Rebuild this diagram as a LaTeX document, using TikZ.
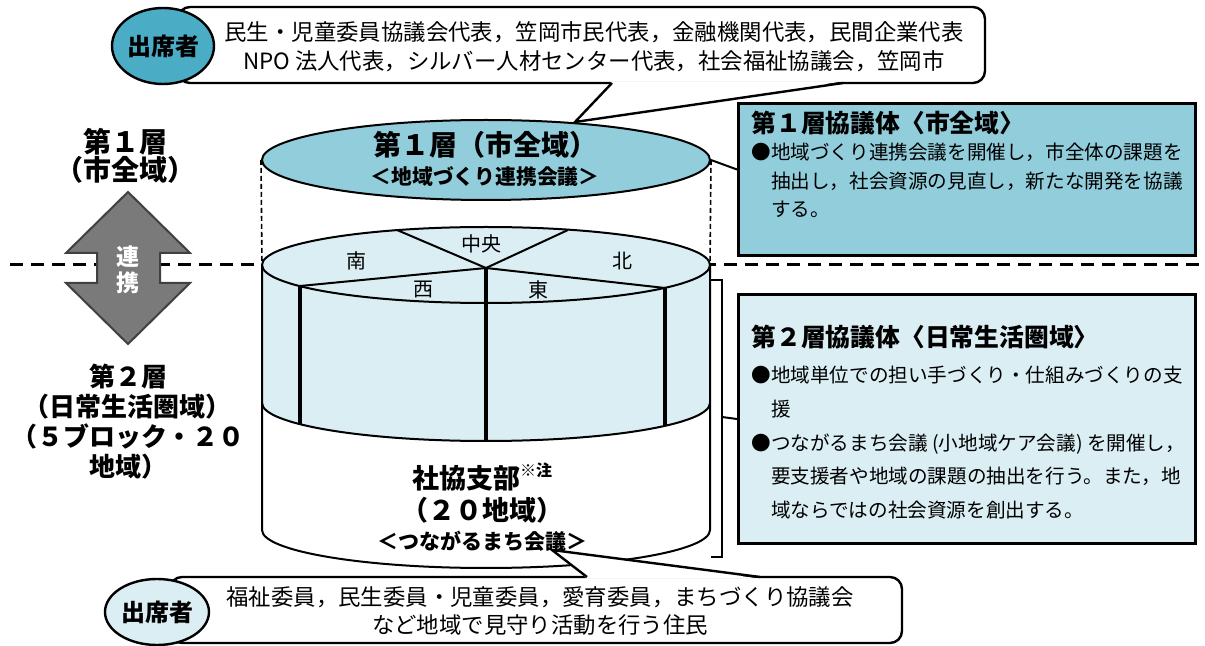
\documentclass[tikz,border=0pt]{standalone}
\usepackage{fontspec}
\setmainfont{Noto Sans CJK JP}
\usepackage{xcolor}
\usetikzlibrary{shapes.geometric}
\definecolor{tierone}{HTML}{92CDDC}
\definecolor{tiertwo}{HTML}{DAEEF3}
\definecolor{attendblue}{HTML}{4BACC6}
\definecolor{arrowgray}{HTML}{7A7A7A}
\tikzset{
  rim/.style={line width=1pt},
  pillar/.style={line width=1.6pt},
  guide/.style={dash pattern=on 2.5pt off 1.5pt, line width=0.8pt},
  divider/.style={dash pattern=on 6.5pt off 4pt, line width=1.5pt},
  callout/.style={draw, line width=1.2pt, rounded corners=6pt, fill=white},
  attend/.style={ellipse, draw, line width=1.2pt, inner sep=0pt, font=\fontsize{12}{12}\selectfont\bfseries},
  panel/.style={draw, line width=1.5pt, inner sep=0pt, minimum width=228.5pt, anchor=north west},
  paneltext/.style={anchor=north west, align=left, inner sep=0pt},
  sector/.style={font=\fontsize{10}{10}\selectfont, inner sep=0pt},
  tierlabel/.style={align=center, font=\fontsize{13}{15}\selectfont\bfseries},
}

\begin{document}
\begin{tikzpicture}[x=0.5pt, y=-0.5pt]
  \useasboundingbox (0,0) rectangle (1205,646);
  \fill[white] (0,0) rectangle (1205,646);

  % boundary between the two tiers
  \draw[divider] (10,265) -- (1200,265);

  % double arrow
  \draw[line width=1pt, draw=black!75, fill=arrowgray] (128,192) -- (190,253) -- (160,253) -- (160,283) -- (190,283) -- (128,344) -- (66,283) -- (97,283) -- (97,253) -- (66,253) -- cycle;
  \node[white, align=center, font=\fontsize{11.5}{13}\selectfont\bfseries] (renkei) at (128,270) {連\\携};
  \node[tierlabel, font=\fontsize{14}{14}\selectfont\bfseries] (tier1lbl) at (125,156) {第１層\\（市全域）};
  \node[tierlabel] (tier2lbl) at (128,422) {第２層\\（日常生活圏域）\\（５ブロック・２０\\地域）};

  % lower cylinder
  \coordinate (t2w) at (262,265);
  \coordinate (t2e) at (710,265);
  \fill[tiertwo] (262,265) -- (262,403) arc[start angle=180, end angle=0, x radius=224, y radius=38] -- (710,265) arc[start angle=0, end angle=-180, x radius=224, y radius=38] -- cycle;
  \fill[white] (262,403) arc[start angle=180, end angle=0, x radius=224, y radius=38] -- (710,530) arc[start angle=0, end angle=180, x radius=224, y radius=38] -- cycle;
  \draw[rim] (486,265) ellipse[x radius=224, y radius=38];
  \draw[rim] (t2w) -- (262,530) arc[start angle=180, end angle=0, x radius=224, y radius=38] -- (t2e);
  \draw[rim] (262,403) arc[start angle=180, end angle=0, x radius=224, y radius=38];

  % five blocks
  \coordinate (hub) at (486,268);
  \draw[rim] (397,230) -- (hub) -- (568,230);
  \draw[rim] (300,286) -- (hub) -- (665,288);
  \draw[pillar] (hub) -- (486,441);
  \draw[pillar] (300,286) -- (300,424);
  \draw[pillar] (665,288) -- (665,426);
  \node[sector] (chuo) at (481,244) {中央};
  \node[sector] (minami) at (356,261) {南};
  \node[sector] (kita) at (622,261) {北};
  \node[sector] (nishi) at (423,290) {西};
  \node[sector] (higashi) at (538,290) {東};

  \node[align=center, font=\fontsize{13.5}{16}\selectfont\bfseries] (branch) at (482,507) {社協支部\raisebox{0.45em}{\fontsize{8}{8}\selectfont ※注}\\（２０地域）\\[-1.4pt]{\fontsize{10.5}{12}\selectfont ＜つながるまち会議＞}};

  % first tier ellipse
  \node[ellipse, draw, line width=1pt, fill=tierone, minimum width=224pt, minimum height=40pt, inner sep=0pt] (layer1) at (486,160) {};
  \draw[guide] (layer1.west) -- (t2w);
  \draw[guide] (layer1.east) -- (t2e);
  \node[align=center, font=\fontsize{14}{14.5}\selectfont\bfseries] (layer1txt) at (485,159) {第１層（市全域）\\{\fontsize{10.4}{14.5}\selectfont ＜地域づくり連携会議＞}};

  % attendees of the first tier
  \draw[callout] (178,7) rectangle (985,83);
  \fill[white] (612,81.4) -- (575,122) -- (843,81.4) -- cycle;
  \draw[line width=1.2pt] (612,83) -- (575,122) -- (843,83);
  \node[attend, fill=attendblue, minimum width=51pt, minimum height=38pt] (att1) at (163,46) {出席者};
  \node[align=center, font=\fontsize{11.2}{14.5}\selectfont] (att1txt) at (594,47) {民生・児童委員協議会代表，笠岡市民代表，金融機関代表，民間企業代表\\NPO 法人代表，シルバー人材センター代表，社会福祉協議会，笠岡市};

  % attendees of the second tier
  \draw[callout] (170,577) rectangle (902,643);
  \fill[white] (587,578.6) -- (552,550) -- (760,578.6) -- cycle;
  \draw[line width=1.2pt] (587,577) -- (552,550) -- (760,577);
  \node[attend, fill=tiertwo, minimum width=52pt, minimum height=33pt] (att2) at (157,612) {出席者};
  \node[align=center, font=\fontsize{11.2}{14}\selectfont] (att2txt) at (540,611) {福祉委員，民生委員・児童委員，愛育委員，まちづくり協議会\\など地域で見守り活動を行う住民};

  % panels
  \node[panel, fill=tierone, minimum height=76pt] (box1) at (737,102) {};
  \node[paneltext, font=\fontsize{9.8}{14.25}\selectfont] (box1txt) at (751,111) {{\fontsize{12.4}{14}\selectfont\bfseries 第１層協議体〈市全域〉}\\[-0.75pt]
●地域づくり連携会議を開催し，市全体の課題を\\
\hspace*{1em}抽出し，社会資源の見直し，新たな開発を協議\\
\hspace*{1em}する。};
  \node[panel, fill=tiertwo, minimum height=124.5pt] (box2) at (737,293) {};
  \node[paneltext, font=\fontsize{9.8}{16.8}\selectfont] (box2txt) at (751,325) {{\fontsize{12.4}{14}\selectfont\bfseries 第２層協議体〈日常生活圏域〉}\\[1.2pt]
●地域単位での担い手づくり・仕組みづくりの支\\
\hspace*{1em}援\\
●つながるまち会議 (小地域ケア会議) を開催し，\\
\hspace*{1em}要支援者や地域の課題の抽出を行う。また，地\\
\hspace*{1em}域ならではの社会資源を創出する。};
  \draw[rim] (layer1.east) -- ([yshift=5pt]box1.west);
  \draw[rim] (711,280) -- (722,280) -- (722,557) -- (711,557);
  \draw[rim] (722,417) -- (box2.west);
\end{tikzpicture}
\end{document}
